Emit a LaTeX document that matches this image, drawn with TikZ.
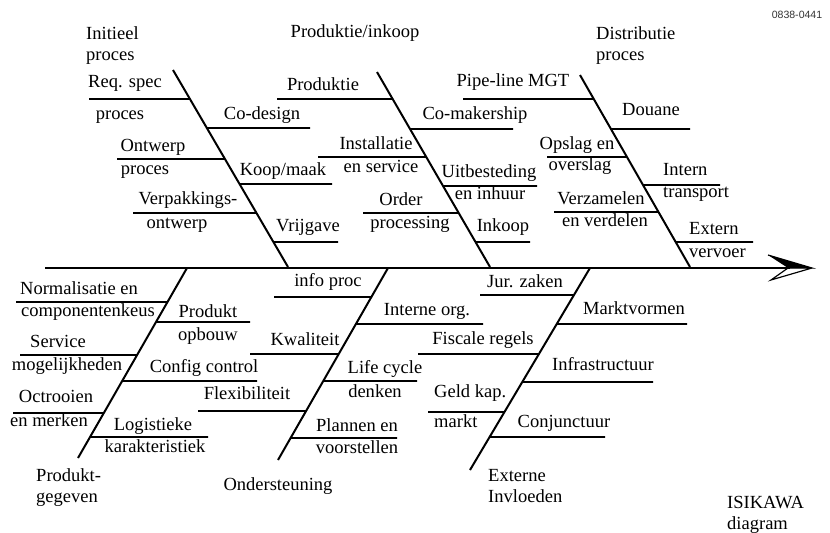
\documentclass[tikz,border=0pt]{standalone}
\usepackage{fontspec}
\setmainfont{Liberation Serif}
\newfontfamily\codefont{Liberation Sans}
\usepackage{tikz}
\usetikzlibrary{calc}
\tikzstyle{bone} = [draw, line width=1.7pt]
\tikzstyle{rib} = [draw, line width=1.4pt]
\tikzstyle{lbl} = [inner sep=0pt, text height=0.7em, text depth=0.2em, yshift=-1.5pt]
\tikzstyle{title} = [inner sep=0pt, align=left, anchor=west, yshift=-1.5pt]

\begin{document}
\begin{tikzpicture}[x=0.03cm, y=-0.03cm, font=\fontsize{15.8}{18}\selectfont]
    \useasboundingbox (0,0) rectangle (830,533);
    % Place bones
    \coordinate (tail) at (45,268);
    \coordinate (head) at (790,268);
    \coordinate (tip) at (812,268);
    \coordinate (initTop) at (173,70);
    \coordinate (initBot) at (288,267);
    \coordinate (prodTop) at (377,72);
    \coordinate (prodBot) at (490,267);
    \coordinate (distTop) at (580,75);
    \coordinate (distBot) at (690,267);
    \coordinate (gegTop) at (187,268);
    \coordinate (gegBot) at (78,458);
    \coordinate (ondTop) at (388,268);
    \coordinate (ondBot) at (278,460);
    \coordinate (extTop) at (590,268);
    \coordinate (extBot) at (470,470);
    % Place titles
    \node [title] (initTitle) at (86,44) {Initieel\\proces};
    \node [lbl] (prodTitle) at (355,33) {Produktie/inkoop};
    \node [title] (distTitle) at (596,44) {Distributie\\proces};
    \node [title] (gegTitle) at (36,486) {Produkt-\\gegeven};
    \node [lbl] (ondTitle) at (278,486) {Ondersteuning};
    \node [title] (extTitle) at (488,484) {Externe\\Invloeden};
    \node [title] (isikawa) at (727,513) {ISIKAWA\\diagram};
    \node [inner sep=0pt, font=\codefont\fontsize{9}{10}\selectfont, text=black!80] (code) at (797,15) {0838-0441};
    % Place labels, initieel proces
    \node [lbl] (reqSpec) at (125,83) {Req. spec};
    \node [lbl] (reqProces) at (120,115) {proces};
    \node [lbl] (coDesign) at (262,115) {Co-design};
    \node [lbl] (ontwerp) at (153,147) {Ontwerp};
    \node [lbl] (ontwerpProces) at (145,170) {proces};
    \node [lbl] (koopMaak) at (283,171) {Koop/maak};
    \node [lbl] (verpak) at (188,200) {Verpakkings-};
    \node [lbl] (verpakOntwerp) at (177,224) {ontwerp};
    \node [lbl] (vrijgave) at (308,227) {Vrijgave};
    % produktie/inkoop
    \node [lbl] (produktie) at (323,86) {Produktie};
    \node [lbl] (coMakership) at (475,115) {Co-makership};
    \node [lbl] (installatie) at (376,145) {Installatie};
    \node [lbl] (enService) at (381,168) {en service};
    \node [lbl] (uitbesteding) at (489,173) {Uitbesteding};
    \node [lbl] (enInhuur) at (490,195) {en inhuur};
    \node [lbl] (order) at (401,201) {Order};
    \node [lbl] (processing) at (410,224) {processing};
    \node [lbl] (inkoop) at (503,227) {Inkoop};
    % distributie proces
    \node [lbl] (pipeLine) at (513,82) {Pipe-line MGT};
    \node [lbl] (douane) at (651,111) {Douane};
    \node [lbl] (opslag) at (577,145) {Opslag en};
    \node [lbl] (overslag) at (580,166) {overslag};
    \node [lbl, anchor=west] (intern) at (663,171) {Intern};
    \node [lbl, anchor=west] (transport) at (663,193) {transport};
    \node [lbl] (verzamelen) at (601,200) {Verzamelen};
    \node [lbl] (enVerdelen) at (605,222) {en verdelen};
    \node [lbl, anchor=west] (extern) at (689,230) {Extern};
    \node [lbl, anchor=west] (vervoer) at (689,253) {vervoer};
    % produktgegeven
    \node [lbl] (normalisatie) at (79,290) {Normalisatie en};
    \node [lbl] (componentenkeus) at (88,312) {componentenkeus};
    \node [lbl] (produkt) at (208,313) {Produkt};
    \node [lbl] (opbouw) at (208,336) {opbouw};
    \node [lbl] (service) at (58,343) {Service};
    \node [lbl] (mogelijkheden) at (67,366) {mogelijkheden};
    \node [lbl] (configControl) at (204,368) {Config control};
    \node [lbl] (octrooien) at (56,398) {Octrooien};
    \node [lbl] (enMerken) at (49,422) {en merken};
    \node [lbl] (logistieke) at (153,426) {Logistieke};
    \node [lbl] (karakteristiek) at (155,448) {karakteristiek};
    % ondersteuning
    \node [lbl] (infoProc) at (328,282) {info proc};
    \node [lbl] (interneOrg) at (427,311) {Interne org.};
    \node [lbl] (kwaliteit) at (305,341) {Kwaliteit};
    \node [lbl] (lifeCycle) at (385,369) {Life cycle};
    \node [lbl] (denken) at (375,393) {denken};
    \node [lbl] (flexibiliteit) at (247,395) {Flexibiliteit};
    \node [lbl] (plannen) at (357,427) {Plannen en};
    \node [lbl] (voorstellen) at (357,449) {voorstellen};
    % externe invloeden
    \node [lbl] (jurZaken) at (525,283) {Jur. zaken};
    \node [lbl] (marktvormen) at (634,310) {Marktvormen};
    \node [lbl] (fiscale) at (483,340) {Fiscale regels};
    \node [lbl] (infrastructuur) at (603,366) {Infrastructuur};
    \node [lbl, anchor=west] (geldKap) at (434,393) {Geld kap.};
    \node [lbl, anchor=west] (markt) at (434,423) {markt};
    \node [lbl] (conjunctuur) at (564,423) {Conjunctuur};
    % Draw spine and bones
    \path [bone] (tail) -- (head);
    \fill (head) ++(-22,-13) -- (tip) -- ($(head)+(-2,0)$) -- cycle;
    \draw [line width=1pt, line join=miter] (head) ++(-22,-13) -- (tip) -- ($(head)+(-2,0)$) -- ($(head)+(-19,12)$) -- (tip);
    \path [bone] (initTop) -- (initBot);
    \path [bone] (prodTop) -- (prodBot);
    \path [bone] (distTop) -- (distBot);
    \path [bone] (gegTop) -- (gegBot);
    \path [bone] (ondTop) -- (ondBot);
    \path [bone] (extTop) -- (extBot);
    % Draw ribs
    \path [rib] (89,99) -- ($(initTop)!29/197!(initBot)$);
    \path [rib] ($(initTop)!58/197!(initBot)$) -- (310,128);
    \path [rib] (117,159) -- ($(initTop)!89/197!(initBot)$);
    \path [rib] ($(initTop)!114/197!(initBot)$) -- (332,184);
    \path [rib] (133,213) -- ($(initTop)!143/197!(initBot)$);
    \path [rib] ($(initTop)!172/197!(initBot)$) -- (338,242);
    \path [rib] (277,99) -- ($(prodTop)!27/195!(prodBot)$);
    \path [rib] ($(prodTop)!57/195!(prodBot)$) -- (513,129);
    \path [rib] (318,157) -- ($(prodTop)!85/195!(prodBot)$);
    \path [rib] ($(prodTop)!114/195!(prodBot)$) -- (537,186);
    \path [rib] (363,213) -- ($(prodTop)!141/195!(prodBot)$);
    \path [rib] ($(prodTop)!170/195!(prodBot)$) -- (530,242);
    \path [rib] (463,99) -- ($(distTop)!24/192!(distBot)$);
    \path [rib] ($(distTop)!54/192!(distBot)$) -- (690,129);
    \path [rib] (547,157) -- ($(distTop)!82/192!(distBot)$);
    \path [rib] ($(distTop)!110/192!(distBot)$) -- (720,185);
    \path [rib] (554,212) -- ($(distTop)!137/192!(distBot)$);
    \path [rib] ($(distTop)!167/192!(distBot)$) -- (753,242);
    \path [rib] (16,302) -- ($(gegTop)!34/190!(gegBot)$);
    \path [rib] ($(gegTop)!54/190!(gegBot)$) -- (250,322);
    \path [rib] (20,355) -- ($(gegTop)!87/190!(gegBot)$);
    \path [rib] ($(gegTop)!113/190!(gegBot)$) -- (257,381);
    \path [rib] (13,413) -- ($(gegTop)!145/190!(gegBot)$);
    \path [rib] ($(gegTop)!169/190!(gegBot)$) -- (208,437);
    \path [rib] (274,297) -- ($(ondTop)!29/192!(ondBot)$);
    \path [rib] ($(ondTop)!56/192!(ondBot)$) -- (483,324);
    \path [rib] (250,354) -- ($(ondTop)!86/192!(ondBot)$);
    \path [rib] ($(ondTop)!113/192!(ondBot)$) -- (417,381);
    \path [rib] (198,411) -- ($(ondTop)!143/192!(ondBot)$);
    \path [rib] ($(ondTop)!170/192!(ondBot)$) -- (397,438);
    \path [rib] (480,295) -- ($(extTop)!27/202!(extBot)$);
    \path [rib] ($(extTop)!56/202!(extBot)$) -- (687,324);
    \path [rib] (418,354) -- ($(extTop)!86/202!(extBot)$);
    \path [rib] ($(extTop)!114/202!(extBot)$) -- (653,382);
    \path [rib] (428,412) -- ($(extTop)!144/202!(extBot)$);
    \path [rib] ($(extTop)!169/202!(extBot)$) -- (605,437);
\end{tikzpicture}
\end{document}
